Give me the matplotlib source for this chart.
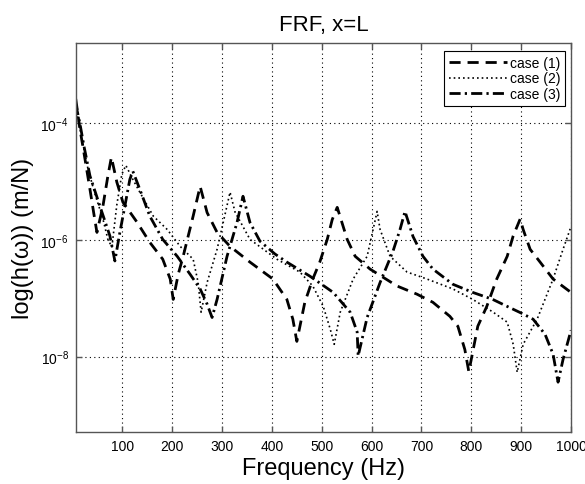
import numpy as np
import matplotlib
matplotlib.use("Agg")
import matplotlib.pyplot as plt
from matplotlib.ticker import NullLocator, FixedLocator

plt.rcParams['font.family'] = ['Liberation Sans', 'DejaVu Sans']
plt.rcParams['mathtext.fontset'] = 'custom'
plt.rcParams['mathtext.rm'] = 'Liberation Sans'
plt.rcParams['mathtext.it'] = 'Liberation Sans:italic'

# values (frequency in Hz, log10 of |h| in m/N)
case1_f = [6.5, 15, 25, 35, 43, 49, 61, 71, 78, 89, 101, 129, 155, 181, 196, 202,
           212, 222, 242, 256, 270, 290, 316, 356, 402, 430, 442, 450, 466, 482,
           496, 511, 521, 531, 551, 567, 597, 623, 651, 691, 723, 757, 773, 787,
           795, 813, 831, 851, 872, 884, 898, 904, 918, 938, 964, 1000]
case1_log = [-3.58, -4.10, -4.61, -5.13, -5.56, -5.87, -5.42, -4.90, -4.58, -5.01,
             -5.35, -5.69, -6.04, -6.33, -6.67, -7.02, -6.59, -6.28, -5.59, -5.08,
             -5.53, -5.87, -6.11, -6.38, -6.67, -7.02, -7.36, -7.74, -7.07, -6.67,
             -6.38, -5.99, -5.65, -5.44, -5.99, -6.28, -6.50, -6.64, -6.79, -6.93,
             -7.07, -7.31, -7.48, -7.88, -8.26, -7.48, -7.14, -6.67, -6.28, -5.93,
             -5.64, -5.82, -6.16, -6.38, -6.67, -6.90]

case2_f = [6.5, 19, 31, 45, 61, 71, 79, 89, 99, 107, 121, 135, 162, 190, 216, 242,
           252, 258, 270, 290, 306, 316, 326, 356, 410, 456, 482, 503, 517, 525,
           537, 563, 591, 603, 611, 617, 637, 671, 711, 763, 803, 844, 872, 884,
           892, 904, 932, 964, 984, 1000]
case2_log = [-3.72, -4.27, -4.78, -5.21, -5.64, -5.99, -6.12, -5.39, -4.87, -4.72,
             -4.96, -5.18, -5.59, -5.82, -6.11, -6.33, -6.73, -7.24, -6.73, -6.16,
             -5.56, -5.18, -5.52, -5.99, -6.33, -6.55, -6.79, -7.14, -7.53, -7.79,
             -7.24, -6.67, -6.28, -5.82, -5.51, -5.82, -6.28, -6.55, -6.67, -6.84,
             -7.02, -7.24, -7.41, -7.79, -8.27, -7.79, -7.36, -6.67, -6.16, -5.77]

case3_f = [6.5, 15, 23, 35, 55, 75, 85, 95, 105, 115, 121, 135, 155, 181, 210, 236,
           256, 270, 280, 290, 310, 330, 342, 356, 376, 406, 430, 476, 523, 557,
           571, 573, 591, 617, 643, 657, 667, 683, 703, 723, 763, 803, 843, 872,
           904, 924, 948, 964, 974, 984, 1000]
case3_log = [-3.67, -4.01, -4.39, -4.90, -5.42, -5.93, -6.36, -5.87, -5.42, -4.96,
             -4.82, -5.13, -5.59, -5.99, -6.28, -6.59, -6.84, -7.10, -7.33, -7.02,
             -6.28, -5.70, -5.25, -5.70, -6.02, -6.24, -6.38, -6.62, -6.90, -7.24,
             -7.58, -7.99, -7.33, -6.73, -6.19, -5.82, -5.51, -5.94, -6.28, -6.50,
             -6.76, -6.90, -7.02, -7.14, -7.27, -7.36, -7.62, -7.96, -8.44, -8.05,
             -7.55]

labels = ["case (1)", "case (2)", "case (3)"]
x_ticks = [100, 200, 300, 400, 500, 600, 700, 800, 900, 1000]
y_ticks = [1e-8, 1e-6, 1e-4]

fig = plt.figure(figsize=(5.85, 4.85), dpi=100)
ax = fig.add_axes([0.1294, 0.1078, 0.8467, 0.8015])

ax.semilogy(case1_f, 10.0 ** np.array(case1_log), color="black", lw=2.0,
            dashes=(4, 2.5), label=labels[0])
ax.semilogy(case2_f, 10.0 ** np.array(case2_log), color="black", lw=1.2,
            dashes=(1, 1.8), label=labels[1])
ax.semilogy(case3_f, 10.0 ** np.array(case3_log), color="black", lw=2.0,
            dashes=(4, 1.5, 0.8, 1.5), label=labels[2])

ax.set_xlim(6.4, 1000)
ax.set_ylim(10 ** -9.29, 10 ** -2.62)
ax.xaxis.set_major_locator(FixedLocator(x_ticks))
ax.yaxis.set_major_locator(FixedLocator(y_ticks))
ax.xaxis.set_minor_locator(NullLocator())
ax.yaxis.set_minor_locator(NullLocator())

ax.grid(True, which="major", color="black", linestyle=(0, (1, 3)), linewidth=0.8)
for s in ax.spines.values():
    s.set_color("#555555")
    s.set_linewidth(1.0)
ax.tick_params(direction="in", top=True, right=True, length=4, width=1,
               color="#555555", labelsize=10, pad=5)

ax.set_title("FRF, x=L", fontsize=16, pad=9)
ax.set_xlabel("Frequency (Hz)", fontsize=17, labelpad=3)
ax.set_ylabel("log(h(\u03c9)) (m/N)", fontsize=17, labelpad=5)

leg = ax.legend(loc="upper right", bbox_to_anchor=(0.988, 0.979), borderaxespad=0,
                fontsize=10, handlelength=4.2, handletextpad=0.2, labelspacing=0.1,
                borderpad=0.35, fancybox=False, edgecolor="black", framealpha=1)
leg.get_frame().set_linewidth(0.8)

fig.savefig("out.png", dpi=100)
